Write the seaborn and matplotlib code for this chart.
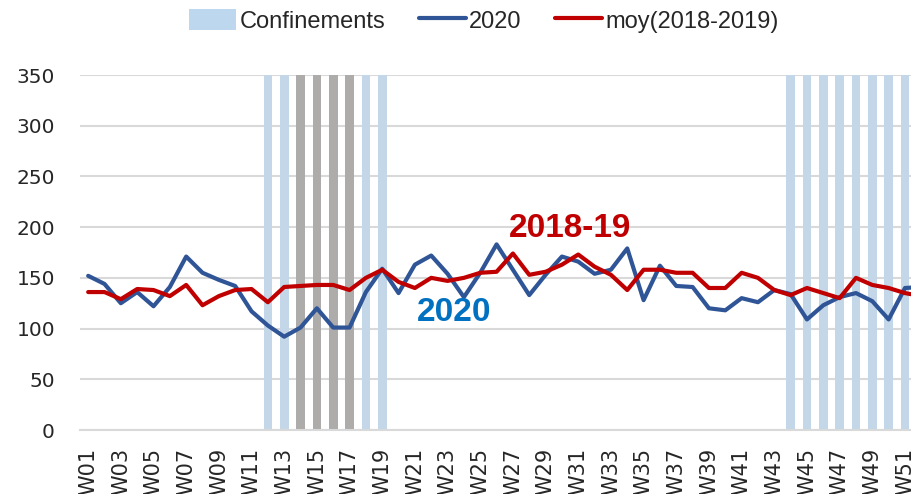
import numpy as np
import pandas as pd
import seaborn as sns
import matplotlib.pyplot as plt
from matplotlib.patches import Patch
from matplotlib.lines import Line2D

# Semaines W01..W52
weeks = [f'W{i:02d}' for i in range(1, 53)]

# Série 2020
val_2020 = [152, 144, 125, 136, 122, 141, 171, 155, 148, 142,
            117, 103, 92, 101, 120, 101, 101, 136, 159, 135,
            163, 172, 154, 131, 155, 183, 158, 133, 153, 171,
            166, 154, 158, 179, 128, 162, 142, 141, 120, 118,
            130, 126, 138, 134, 109, 123, 131, 135, 127, 109,
            140, 141]

# Moyenne 2018-2019
val_moy = [136, 136, 129, 139, 138, 132, 143, 123, 132, 138,
           139, 126, 141, 142, 143, 143, 138, 150, 158, 146,
           140, 150, 147, 150, 155, 156, 174, 153, 156, 163,
           173, 161, 153, 138, 158, 158, 155, 155, 140, 140,
           155, 150, 138, 133, 140, 135, 130, 150, 143, 140,
           135, 132]

# Semaines de confinement (bleu clair) et semaines en gris
conf_weeks = ['W12', 'W13', 'W18', 'W19',
              'W44', 'W45', 'W46', 'W47', 'W48', 'W49', 'W50', 'W51', 'W52']
grey_weeks = ['W14', 'W15', 'W16', 'W17']
bar_height = 350

c_conf = '#BDD7EE'
c_grey = '#AEAAAA'
c_2020 = '#2F5597'
c_moy = '#C00000'
c_grid = '#D9D9D9'

rows = [{'week': w, 'h': bar_height, 'kind': 'conf'} for w in conf_weeks]
rows += [{'week': w, 'h': bar_height, 'kind': 'grey'} for w in grey_weeks]
df_bars = pd.DataFrame(rows)

sns.set_style('white')
plt.rcParams['font.family'] = ['Liberation Sans', 'DejaVu Sans']

fig = plt.figure(figsize=(9.12, 4.94), dpi=100)
ax = fig.add_axes([80 / 912, 1 - 430 / 494, 1 - 80 / 912, 355 / 494])

sns.barplot(data=df_bars, x='week', y='h', hue='kind', order=weeks,
            palette={'conf': c_conf, 'grey': c_grey}, width=0.53,
            dodge=False, legend=False, ax=ax, zorder=1,
            edgecolor='none', linewidth=0)

x = np.arange(len(weeks))
sns.lineplot(x=x, y=val_2020, color=c_2020, lw=3, ax=ax, zorder=3)
sns.lineplot(x=x, y=val_moy, color=c_moy, lw=3, ax=ax, zorder=4)

ax.set_xlim(-0.5, 50.43)
ax.set_ylim(0, 350)
ax.set_yticks(range(0, 351, 50))
ax.set_xticks(x[::2])
ax.set_xticklabels(weeks[::2], rotation=90, fontsize=15, family='DejaVu Sans')
for lab in ax.get_yticklabels():
    lab.set_family('DejaVu Sans')
ax.tick_params(axis='y', labelsize=14.5, length=0, pad=18)
ax.tick_params(axis='x', length=0, pad=13)
ax.set_xlabel('')
ax.set_ylabel('')

ax.yaxis.grid(True, color=c_grid, lw=1.5)
ax.set_axisbelow(True)
for s in ['top', 'right', 'left']:
    ax.spines[s].set_visible(False)
ax.spines['bottom'].set_color(c_grid)
ax.spines['bottom'].set_linewidth(1.5)

# Étiquettes dans le graphique
ax.text(29.5, 199, '2018-19', color=c_moy, fontsize=24, fontweight='bold',
        ha='center', va='center')
ax.text(22.4, 116, '2020', color='#0070C0', fontsize=24, fontweight='bold',
        ha='center', va='center')

handles = [Patch(facecolor=c_conf, edgecolor='none'),
           Line2D([0], [0], color=c_2020, lw=3),
           Line2D([0], [0], color=c_moy, lw=3)]
labels = ['Confinements', '2020', 'moy(2018-2019)']
fig.legend(handles, labels, loc='center', bbox_to_anchor=(484 / 912, 1 - 21 / 494),
           ncol=3, frameon=False, prop={'family': 'Liberation Sans', 'size': 17},
           handlelength=2.0, handleheight=1.0, handletextpad=0.15, columnspacing=1.4)

fig.savefig('out.png', dpi=100)
